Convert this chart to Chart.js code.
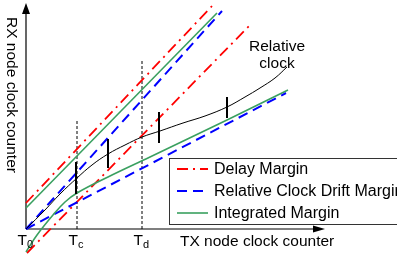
<!DOCTYPE html>
<html><head><meta charset="utf-8">
<script src="https://cdn.jsdelivr.net/npm/chart.js@4/dist/chart.umd.min.js"></script>
<style>html,body{margin:0;padding:0;background:#fff;overflow:hidden}#wrap{width:397px;height:254px;position:relative}</style>
</head><body><div id="wrap"><canvas id="c" width="397" height="254"></canvas></div>
<script>
// ---- data (schematic units: TX counter on x, RX counter on y, origin at T0) ----
const tickValues = [0, 51, 116];
const tickMain = ['T', 'T', 'T'];
const tickSub = ['0', 'c', 'd'];
const xAxisTitle = 'TX node clock counter';
const yAxisTitle = 'RX node clock counter';
const curveLabel = ['Relative', 'clock'];
const seriesNames = ['Delay Margin', 'Relative Clock Drift Margin', 'Integrated Margin'];

const clockX = [0, 19, 34, 51, 66, 82, 99, 116, 134, 157, 179, 201, 219, 234, 249, 261];
const clockY = [0, 19, 35, 51, 64, 75, 84, 92, 98, 106, 113, 122, 132, 141, 151, 162];

const delayUpperX = [0, 186];
const delayUpperY = [26, 223];
const delayLowerX = [1, 226];
const delayLowerY = [-24, 206];
const driftUpperX = [0, 196];
const driftUpperY = [0, 218];
const driftLowerX = [0, 260];
const driftLowerY = [0, 136];
const integUpperX = [0, 191];
const integUpperY = [21, 216];
const integLowerX = [0, 11, 27, 39, 51, 82, 124, 201, 262];
const integLowerY = [-23, -6, 14, 27, 36, 52, 72, 109, 139];

const barX = [50, 82, 133, 201];
const barLow = [35, 61, 86, 111];
const barHigh = [67, 90, 117, 132];

const markerX = [51, 116];
const markerTop = [109, 170];

const axisXEnd = 299;
const axisYEnd = 226;
const xRange = [-26, 371];
const yRange = [-25, 229];

// ---- styles ----
const RED = '#ff0000', BLUE = '#0000ff', GREEN = '#3aa060', BLACK = '#000000';
const FONT = '"Liberation Sans", Arial, sans-serif';
const redDash = [11, 5, 2, 5], blueDash = [10, 6];

const pts = (xs, ys) => xs.map((x, i) => ({x: x, y: ys[i]}));
function line(data, color, width, dash, extra) {
  return Object.assign({data: data, borderColor: color, borderWidth: width, borderDash: dash || [],
    showLine: true, pointRadius: 0, pointHoverRadius: 0, fill: false, tension: 0, clip: false}, extra || {});
}

const datasets = [];
barX.forEach((x, i) => datasets.push(line([{x: x, y: barLow[i]}, {x: x, y: barHigh[i]}], BLACK, 2)));
datasets.push(line(pts(clockX, clockY), BLACK, 1, [], {tension: 0.4}));
datasets.push(line(pts(integUpperX, integUpperY), GREEN, 1.6, [], {label: seriesNames[2]}));
datasets.push(line(pts(integLowerX, integLowerY), GREEN, 1.6, [], {tension: 0.4}));
datasets.push(line(pts(driftUpperX, driftUpperY), BLUE, 2, blueDash, {label: seriesNames[1]}));
datasets.push(line(pts(driftLowerX, driftLowerY), BLUE, 2, blueDash));
datasets.push(line(pts(delayUpperX, delayUpperY), RED, 1.8, redDash, {label: seriesNames[0]}));
datasets.push(line(pts(delayLowerX, delayLowerY), RED, 1.8, redDash));
markerX.forEach((x, i) => datasets.push(line([{x: x, y: 0}, {x: x, y: markerTop[i]}], BLACK, 1, [3, 2])));
datasets.push(line([{x: 0, y: 0}, {x: axisXEnd - 8, y: 0}], BLACK, 1.2));
datasets.push(line([{x: 0, y: 0}, {x: 0, y: axisYEnd - 8}], BLACK, 1.2));

const legendItems = [
  {text: seriesNames[0], color: RED, width: 1.8, dash: redDash},
  {text: seriesNames[1], color: BLUE, width: 2, dash: blueDash},
  {text: seriesNames[2], color: GREEN, width: 1.6, dash: []}
];

const decor = {
  id: 'decor',
  afterDatasetsDraw(chart) {
    const ctx = chart.ctx, xs = chart.scales.x, ys = chart.scales.y;
    const X = v => xs.getPixelForValue(v), Y = v => ys.getPixelForValue(v);
    ctx.save();
    ctx.fillStyle = BLACK;
    // arrow heads
    const ox = X(0), oy = Y(0);
    const tx = X(axisXEnd), ty = Y(axisYEnd);
    ctx.beginPath(); ctx.moveTo(tx, oy); ctx.lineTo(tx - 12, oy - 3.5); ctx.lineTo(tx - 12, oy + 3.5); ctx.closePath(); ctx.fill();
    ctx.beginPath(); ctx.moveTo(ox, ty); ctx.lineTo(ox - 4, ty + 11); ctx.lineTo(ox + 4, ty + 11); ctx.closePath(); ctx.fill();
    // tick labels T0, Tc, Td
    tickValues.forEach((v, i) => {
      const px = X(v) + 1;
      ctx.font = '15.5px ' + FONT; ctx.textAlign = 'right'; ctx.textBaseline = 'alphabetic';
      ctx.fillText(tickMain[i], px, oy + 16);
      ctx.font = '11px ' + FONT; ctx.textAlign = 'left';
      ctx.fillText(tickSub[i], px, oy + 19);
    });
    // axis titles
    ctx.font = '15.5px ' + FONT; ctx.textAlign = 'left';
    ctx.fillText(xAxisTitle, 180, 246);
    ctx.save(); ctx.translate(7, 17); ctx.rotate(Math.PI / 2); ctx.fillText(yAxisTitle, 0, 0); ctx.restore();
    // curve label
    ctx.textAlign = 'center';
    ctx.fillText(curveLabel[0], 277, 51);
    ctx.fillText(curveLabel[1], 277, 68);
    // legend
    ctx.fillStyle = '#fff'; ctx.fillRect(169, 158, 240, 66);
    ctx.strokeStyle = '#333'; ctx.lineWidth = 1; ctx.setLineDash([]);
    ctx.strokeRect(169.5, 158.5, 240, 66);
    const rowY = [169, 191, 213], baseY = [174, 196, 218];
    ctx.font = '16px ' + FONT;
    legendItems.forEach((it, i) => {
      ctx.strokeStyle = it.color; ctx.lineWidth = it.width; ctx.setLineDash(it.dash);
      ctx.beginPath(); ctx.moveTo(177, rowY[i]); ctx.lineTo(208, rowY[i]); ctx.stroke();
      ctx.setLineDash([]);
      ctx.fillStyle = BLACK; ctx.textAlign = 'left';
      ctx.fillText(it.text, 214, baseY[i]);
    });
    ctx.restore();
  }
};

new Chart(document.getElementById('c'), {
  type: 'scatter',
  data: {datasets: datasets},
  options: {
    responsive: false, animation: false, events: [],
    layout: {padding: 0},
    plugins: {legend: {display: false}, tooltip: {enabled: false}},
    scales: {
      x: {type: 'linear', display: false, min: xRange[0], max: xRange[1]},
      y: {type: 'linear', display: false, min: yRange[0], max: yRange[1]}
    }
  },
  plugins: [decor]
});
</script>
</body></html>
